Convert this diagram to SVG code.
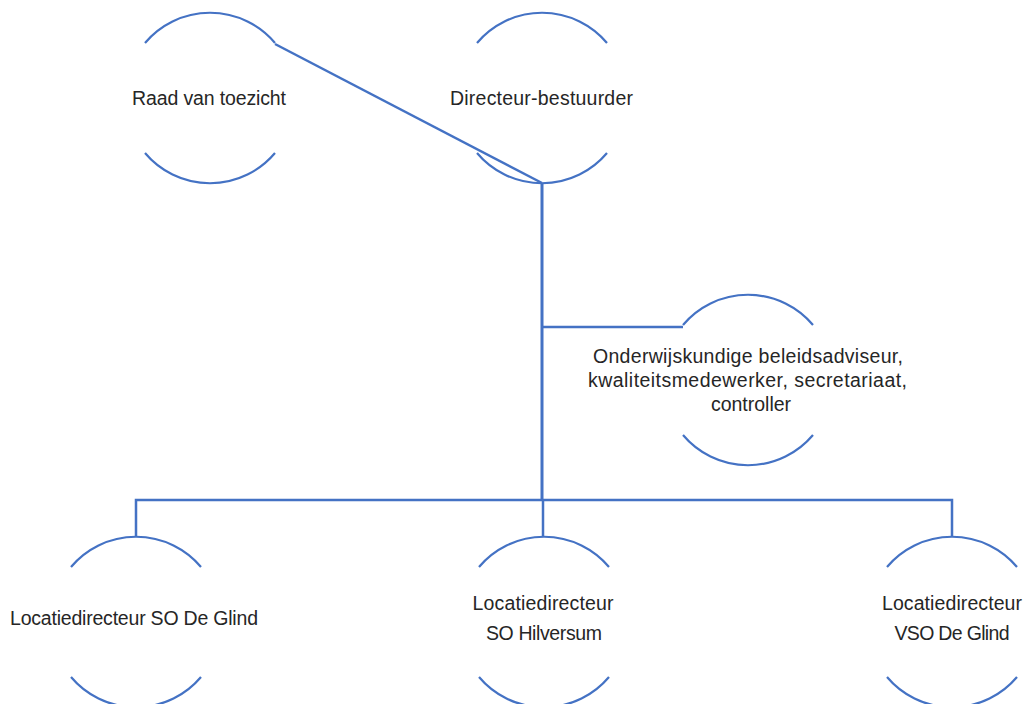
<svg xmlns="http://www.w3.org/2000/svg" width="1027" height="704" viewBox="0 0 1027 704">
<style>
.arc{fill:none;stroke:#4472C4;stroke-width:2.2}
.con{fill:none;stroke:#4472C4;stroke-width:2.5}
text{font-family:"Liberation Sans",Arial,sans-serif;font-size:19.5px;fill:#262626;text-anchor:middle}
</style>
<rect width="1027" height="704" fill="#ffffff"/>
<g id="connectors">
<path class="con" d="M275,44 L542,183"/>
<path class="con" d="M542,183 L542,500" style="stroke-width:3"/>
<path class="con" d="M542,327 L683,327"/>
<path class="con" d="M136,537 L136,500 L952,500 L952,537"/>
<path class="con" d="M543,500 L543,537"/>
</g>
<g id="node-raad">
<path class="arc" d="M145,43 A85,85 0 0 1 275,43"/>
<path class="arc" d="M145,153 A85,85 0 0 0 275,153"/>
<text x="209" y="105" textLength="154">Raad van toezicht</text>
</g>
<g id="node-directeur">
<path class="arc" d="M477,43 A85,85 0 0 1 607,43"/>
<path class="arc" d="M477,153 A85,85 0 0 0 607,153"/>
<text x="541.5" y="105" textLength="183">Directeur-bestuurder</text>
</g>
<g id="node-staf">
<path class="arc" d="M683,325 A85,85 0 0 1 813,325"/>
<path class="arc" d="M683,435 A85,85 0 0 0 813,435"/>
<text x="748" y="363" textLength="310">Onderwijskundige beleidsadviseur,</text>
<text x="747.5" y="387" textLength="319">kwaliteitsmedewerker, secretariaat,</text>
<text x="751" y="411">controller</text>
</g>
<g id="node-so-deglind">
<path class="arc" d="M71,567 A85,85 0 0 1 201,567"/>
<path class="arc" d="M71,677 A85,85 0 0 0 201,677"/>
<text x="134" y="625" textLength="248">Locatiedirecteur SO De Glind</text>
</g>
<g id="node-so-hilversum">
<path class="arc" d="M479,567 A85,85 0 0 1 609,567"/>
<path class="arc" d="M479,677 A85,85 0 0 0 609,677"/>
<text x="543" y="610" textLength="141">Locatiedirecteur</text>
<text x="544" y="640" textLength="116">SO Hilversum</text>
</g>
<g id="node-vso-deglind">
<path class="arc" d="M887,567 A85,85 0 0 1 1017,567"/>
<path class="arc" d="M887,677 A85,85 0 0 0 1017,677"/>
<text x="952" y="610" textLength="140">Locatiedirecteur</text>
<text x="952" y="640" textLength="115">VSO De Glind</text>
</g>
</svg>
